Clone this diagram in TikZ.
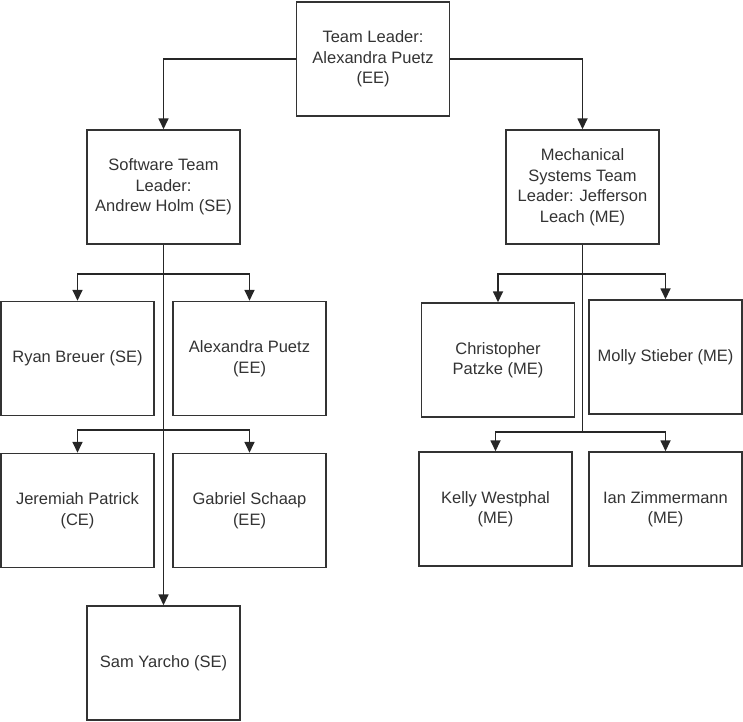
\documentclass[tikz,border=0pt]{standalone}
\usepackage{fontspec}
\setmainfont{Liberation Sans}
\usetikzlibrary{arrows.meta}
\tikzset{
  box/.style={draw=black!80, line width=1.5pt, minimum width=153pt, minimum height=114pt,
    inner sep=0pt, align=center, text=black!80,
    font=\fontsize{16.5}{20.5}\selectfont},
  link/.style={draw=black!85, line width=1.7pt},
  conn/.style={link, -{Triangle[length=11pt,width=10pt]}}
}
\begin{document}
\begin{tikzpicture}[x=1pt, y=-1pt, line join=miter]

		% Khung giới hạn
		\useasboundingbox (0,0) rectangle (743,721);

		% Trưởng nhóm
		\node[box] (lead) at (373,59) {Team Leader:\\Alexandra Puetz\\(EE)};

		% Hai nhóm con
		\node[box] (soft) at (163.5,187) {Software Team\\Leader:\\Andrew Holm (SE)};
		\node[box] (mech) at (582.5,187) {Mechanical\\Systems Team\\Leader: Jefferson\\Leach (ME)};

		% Thành viên nhóm phần mềm
		\node[box] (ryan) at (77.5,358.5) {Ryan Breuer (SE)};
		\node[box] (alex) at (249.5,358.5) {Alexandra Puetz\\(EE)};
		\node[box] (jere) at (77.5,510.5) {Jeremiah Patrick\\(CE)};
		\node[box] (gabe) at (249.5,510.5) {Gabriel Schaap\\(EE)};
		\node[box] (sam) at (163.5,663) {Sam Yarcho (SE)};

		% Thành viên nhóm cơ khí
		\node[box] (chris) at (498,360) {Christopher\\Patzke (ME)};
		\node[box] (molly) at (665.5,357) {Molly Stieber (ME)};
		\node[box] (kelly) at (495.5,509) {Kelly Westphal\\(ME)};
		\node[box] (ian) at (665.5,509) {Ian Zimmermann\\(ME)};

		% Điểm rẽ nhánh
		\coordinate (softA) at (163.5,274);
		\coordinate (softB) at (163.5,430);
		\coordinate (mechA) at (582.5,274);
		\coordinate (mechB) at (582.5,432);

		% Đường nối từ trưởng nhóm
		\draw[conn] (lead.west) -| (soft.north);
		\draw[conn] (lead.east) -| (mech.north);

		% Đường nối nhóm phần mềm
		\draw[conn] (soft.south) -- (sam.north);
		\draw[conn] (softA) -| (ryan.north);
		\draw[conn] (softA) -| (alex.north);
		\draw[conn] (softB) -| (jere.north);
		\draw[conn] (softB) -| (gabe.north);

		% Đường nối nhóm cơ khí
		\draw[link] (mech.south) -- (mechB);
		\draw[conn] (mechA) -| (chris.north);
		\draw[conn] (mechA) -| (molly.north);
		\draw[conn] (mechB) -| (kelly.north);
		\draw[conn] (mechB) -| (ian.north);

\end{tikzpicture}
\end{document}
